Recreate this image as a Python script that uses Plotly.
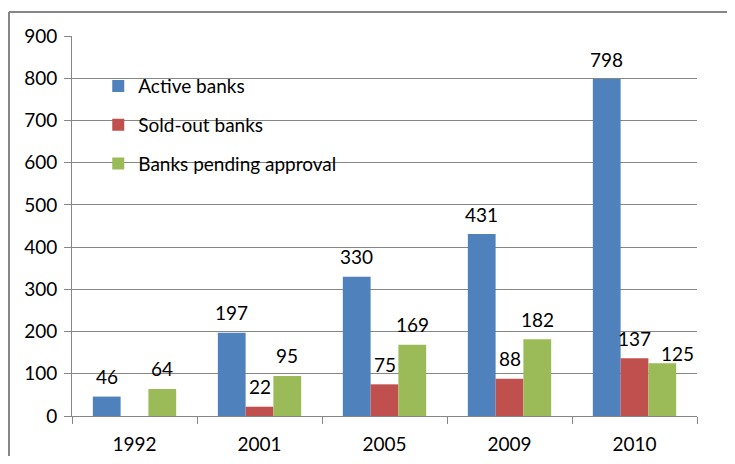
import plotly.graph_objects as go

years = ["1992", "2001", "2005", "2009", "2010"]
active = [46, 197, 330, 431, 798]
sold_out = [None, 22, 75, 88, 137]
pending = [64, 95, 169, 182, 125]
series_names = ["Active banks", "Sold-out banks", "Banks pending approval"]
colors = ["#4F81BD", "#C0504D", "#9BBB59"]

FONT = "Lato"
FS = 19
fig = go.Figure()
all_series = [active, sold_out, pending]
for i, (name, vals, col) in enumerate(zip(series_names, all_series, colors)):
    fig.add_trace(go.Bar(
        x=years, y=vals, name=name, marker=dict(color=col, line=dict(width=0)),
        legendgroup=name,
    ))

bar_px = 125 * (1 - 1 / 3) / 3
for i, vals in enumerate(all_series):
    for j, v in enumerate(vals):
        if v is None:
            continue
        dx, dy = (i - 1) * bar_px, 20
        if i == 2 and years[j] == "2010":
            dx += 15
            dy = 10
        fig.add_annotation(x=j, y=v, xref="x", yref="y", text=str(v),
                           showarrow=False, xshift=dx, yshift=dy,
                           font=dict(family=FONT, size=FS, color="#000000"))

# outer chart border: left and top edges only, top edge ends at figure edge
W, H = 719, 448
bx0 = (9 - 72) / 625
bx1 = (8 + W - 72) / 625
by1 = 1 + (36 - 12) / 380
border = dict(color="#868686", width=2)
fig.add_shape(type="line", xref="paper", yref="paper",
              x0=bx0, y0=-0.2, x1=bx0, y1=by1, line=border, layer="below")
fig.add_shape(type="line", xref="paper", yref="paper",
              x0=bx0, y0=by1, x1=bx1, y1=by1, line=border, layer="below")

fig.update_layout(
    width=W, height=H,
    margin=dict(l=64, r=W + 8 - 697, t=28, b=H + 8 - 416, autoexpand=False),
    paper_bgcolor="white", plot_bgcolor="white",
    barmode="group", bargap=1 / 3, bargroupgap=0,
    font=dict(family=FONT, size=FS, color="#000000"),
    legend=dict(x=0.042, y=0.918, xanchor="left", yanchor="top",
                bgcolor="rgba(0,0,0,0)", traceorder="grouped",
                tracegroupgap=11, itemwidth=30,
                font=dict(family=FONT, size=FS)),
    showlegend=True,
)
fig.update_yaxes(range=[0, 900], dtick=100, showgrid=True, gridcolor="#868686",
                 gridwidth=1, showline=True, linecolor="#868686", linewidth=1,
                 ticks="outside", ticklen=7, tickcolor="#868686",
                 zeroline=False, automargin=False, ticklabelstandoff=3,
                 tickfont=dict(family=FONT, size=FS))
fig.update_xaxes(type="category", range=[-0.5, len(years) - 0.5],
                 showline=True, linecolor="#868686", linewidth=1,
                 ticks="outside", ticklen=7, tickcolor="#868686",
                 tickson="boundaries", ticklabelstandoff=11, tickangle=0,
                 automargin=False, tickfont=dict(family=FONT, size=FS))

fig.write_html("out.html", config={"displayModeBar": False})
